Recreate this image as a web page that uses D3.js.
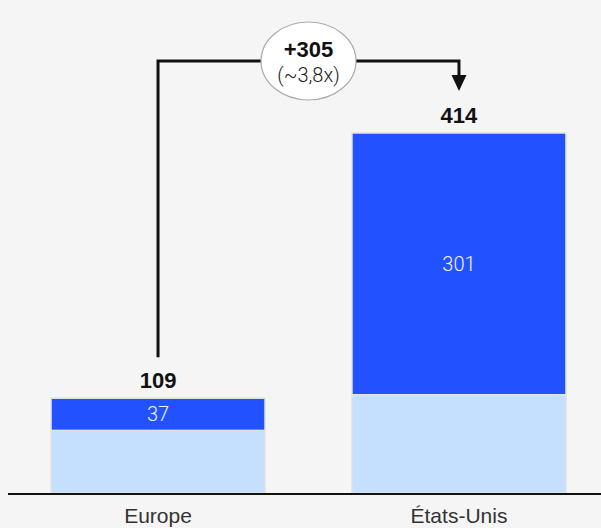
<!DOCTYPE html>
<html><head><meta charset="utf-8">
<script src="https://cdn.jsdelivr.net/npm/d3@7"></script>
<style>
html,body{margin:0;padding:0;background:#f5f5f5;}
svg{display:block;font-family:"Liberation Sans",Arial,sans-serif;}
</style></head>
<body>
<script>
const categories = ["Europe", "États-Unis"];
const baseValues = [72, 113];
const topValues = [37, 301];
const totals = [109, 414];
const diffLabel = "+305";
const ratioLabel = "(~3,8x)";

const W = 601, H = 528;
const svg = d3.select("body").append("svg").attr("width", W).attr("height", H);
svg.append("rect").attr("width", W).attr("height", H).attr("fill", "#f5f5f5");

const x = d3.scaleBand().domain(categories).range([8, 609]).paddingInner(0.289).paddingOuter(0.143);
const y = d3.scaleLinear().domain([0, 414]).range([493, 133]);

const dark = "#2251ff", light = "#c5dfff";

categories.forEach((c, i) => {
  const x0 = x(c), bw = x.bandwidth();
  svg.append("rect").attr("x", x0).attr("y", y(baseValues[i])).attr("width", bw)
    .attr("height", y(0) - y(baseValues[i])).attr("fill", light)
    .attr("stroke", "#e2e2e2").attr("stroke-width", 1.5);
  svg.append("rect").attr("x", x0).attr("y", y(totals[i])).attr("width", bw)
    .attr("height", y(baseValues[i]) - y(totals[i])).attr("fill", dark)
    .attr("stroke", "#e2e2e2").attr("stroke-width", 1.5);
  svg.append("text").attr("x", x0 + bw / 2).attr("y", (y(baseValues[i]) + y(totals[i])) / 2 + 7)
    .attr("text-anchor", "middle").attr("fill", "#f2f5ff")
    .style("font-family", "Roboto, sans-serif").style("font-weight", 300)
    .style("font-size", "20px").text(topValues[i]);
  svg.append("text").attr("x", x0 + bw / 2).attr("y", y(totals[i]) - 10)
    .attr("text-anchor", "middle").attr("fill", "#111").style("font-weight", "bold")
    .style("font-size", "22px").text(totals[i]);
  svg.append("text").attr("x", x0 + bw / 2).attr("y", 523)
    .attr("text-anchor", "middle").attr("fill", "#333")
    .style("font-size", "21px").text(c);
});

svg.append("line").attr("x1", 8).attr("x2", W).attr("y1", 494).attr("y2", 494)
  .attr("stroke", "#111").attr("stroke-width", 2);

const cx0 = x(categories[0]) + x.bandwidth() / 2;
const cx1 = x(categories[1]) + x.bandwidth() / 2;
const topY = 61;
svg.append("path")
  .attr("d", `M${cx0},${y(totals[0]) - 41} V${topY} H${cx1} V${y(totals[1]) - 58}`)
  .attr("fill", "none").attr("stroke", "#111").attr("stroke-width", 3);
const tipY = y(totals[1]) - 42;
svg.append("path")
  .attr("d", `M${cx1 - 7.5},${tipY - 16} L${cx1 + 7.5},${tipY - 16} L${cx1},${tipY} Z`)
  .attr("fill", "#111");

const ex = (cx0 + cx1) / 2;
svg.append("ellipse").attr("cx", ex).attr("cy", 61).attr("rx", 47.5).attr("ry", 39)
  .attr("fill", "#fff").attr("stroke", "#aaa").attr("stroke-width", 1.2);
svg.append("text").attr("x", ex).attr("y", 56.5).attr("text-anchor", "middle")
  .attr("fill", "#111").style("font-weight", "bold").style("font-size", "22px").text(diffLabel);
svg.append("text").attr("x", ex).attr("y", 82).attr("text-anchor", "middle")
  .attr("fill", "#222").style("font-family", "Roboto, sans-serif").style("font-weight", 300)
  .style("font-size", "20px").text(ratioLabel);
</script>
</body></html>
